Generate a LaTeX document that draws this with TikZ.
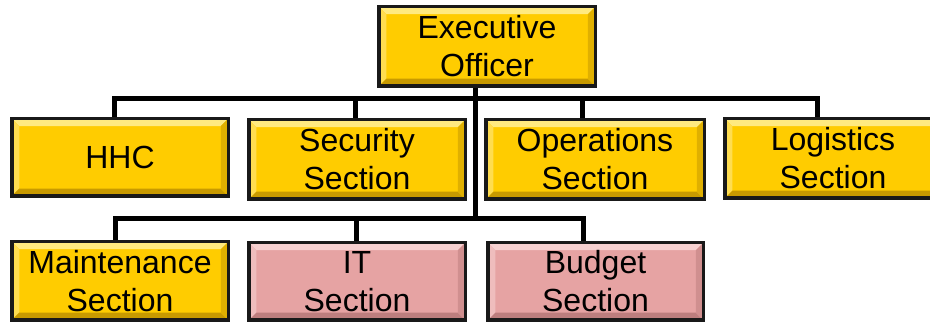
\documentclass[tikz,border=0pt]{standalone}
\usepackage{fontspec}
\setmainfont{Liberation Sans}
\definecolor{gold}{HTML}{FFCC00}
\definecolor{goldtop}{HTML}{FFEA80}
\definecolor{goldleft}{HTML}{FFDD50}
\definecolor{goldbot}{HTML}{C89A00}
\definecolor{goldright}{HTML}{E0B000}
\definecolor{pink}{HTML}{E6A3A3}
\definecolor{pinktop}{HTML}{F6D0D0}
\definecolor{pinkleft}{HTML}{EFBDBD}
\definecolor{pinkbot}{HTML}{BD7E7E}
\definecolor{pinkright}{HTML}{D08F8F}
\tikzset{
  bevel/.style n args={4}{path picture={
    \fill[#1] (path picture bounding box.north west) -- (path picture bounding box.north east)
      -- ([shift={(-7.5pt,-7.5pt)}]path picture bounding box.north east)
      -- ([shift={(7.5pt,-7.5pt)}]path picture bounding box.north west) -- cycle;
    \fill[#2] (path picture bounding box.north west)
      -- ([shift={(7.5pt,-7.5pt)}]path picture bounding box.north west)
      -- ([shift={(7.5pt,7.5pt)}]path picture bounding box.south west)
      -- (path picture bounding box.south west) -- cycle;
    \fill[#3] (path picture bounding box.south west) -- (path picture bounding box.south east)
      -- ([shift={(-7.5pt,7.5pt)}]path picture bounding box.south east)
      -- ([shift={(7.5pt,7.5pt)}]path picture bounding box.south west) -- cycle;
    \fill[#4] (path picture bounding box.north east)
      -- ([shift={(-7.5pt,-7.5pt)}]path picture bounding box.north east)
      -- ([shift={(-7.5pt,7.5pt)}]path picture bounding box.south east)
      -- (path picture bounding box.south east) -- cycle;
  }},
  box/.style={draw=black!90, line width=3.5pt, inner sep=0pt, align=center,
    font=\fontsize{32}{38}\selectfont, text=black},
  goldbox/.style={box, fill=gold, bevel={goldtop}{goldleft}{goldbot}{goldright}},
  pinkbox/.style={box, fill=pink, bevel={pinktop}{pinkleft}{pinkbot}{pinkright}},
  conn/.style={draw=black, line width=5pt, line join=miter},
}
\begin{document}
\begin{tikzpicture}[x=1pt,y=-1pt]
\path[use as bounding box] (0,0) rectangle (930,323);
\clip (0,0) rectangle (930,323);
\coordinate (b1) at (475,99);
\coordinate (b2) at (475,219);
% boxes
\node[goldbox, minimum width=216.5pt, minimum height=79.5pt] (exec) at (487,46.5) {Executive\\Officer};
\node[goldbox, minimum width=216.5pt, minimum height=77.5pt] (hhc) at (120,157.5) {HHC};
\node[goldbox, minimum width=216.5pt, minimum height=79.5pt] (sec) at (357,159.5) {Security\\Section};
\node[goldbox, minimum width=218.5pt, minimum height=79.5pt] (ops) at (595,159.5) {Operations\\Section};
\node[goldbox, minimum width=216.5pt, minimum height=79.5pt] (log) at (833,158.5) {Logistics\\Section};
\node[goldbox, minimum width=216.5pt, minimum height=78.5pt] (mnt) at (120,281) {Maintenance\\Section};
\node[pinkbox, minimum width=216.5pt, minimum height=77.5pt] (it) at (357,281.5) {IT\\Section};
\node[pinkbox, minimum width=215.5pt, minimum height=77.5pt] (bud) at (595.5,281.5) {Budget\\Section};
% connectors
\draw[conn] (exec.south -| b1) -- (b2);
\draw[conn] ([xshift=-6pt]hhc.north) |- (b1) -| ([xshift=-16pt]log.north);
\draw[conn] ([xshift=-2pt]sec.north) |- (b1);
\draw[conn] ([xshift=-13pt]ops.north) |- (b1);
\draw[conn] ([xshift=-5pt]mnt.north) |- (b2) -| ([xshift=-12.5pt]bud.north);
\draw[conn] ([xshift=-1pt]it.north) |- (b2);
\end{tikzpicture}
\end{document}
